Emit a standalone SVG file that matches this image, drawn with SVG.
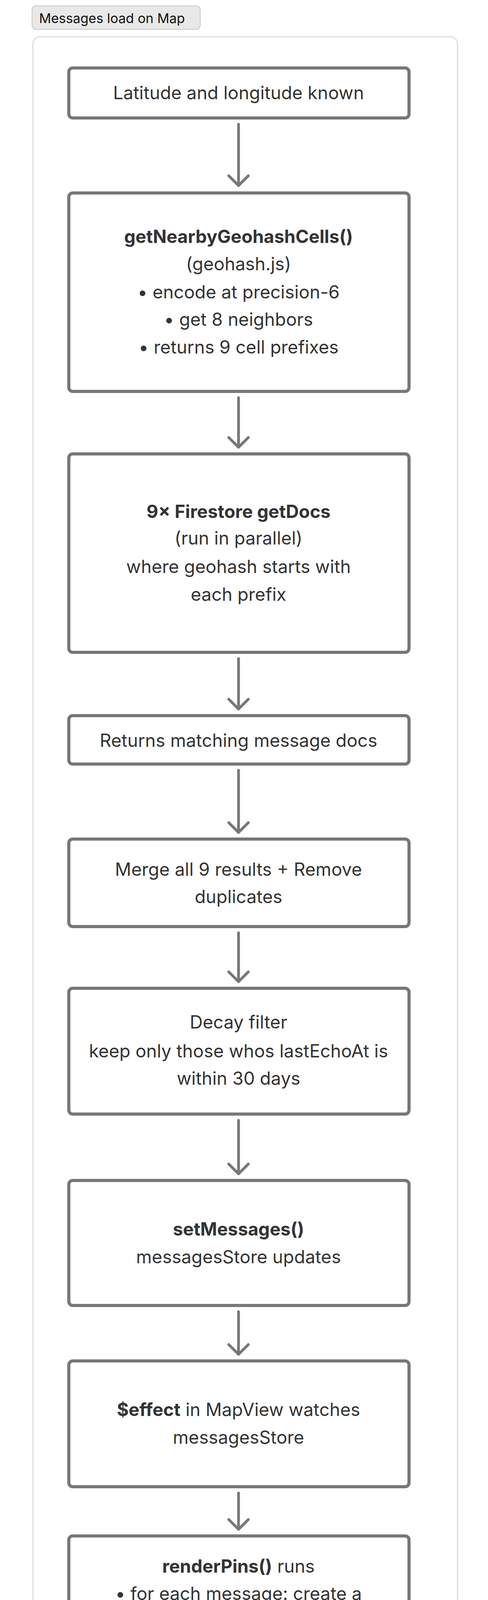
<svg xmlns="http://www.w3.org/2000/svg" width="1248" height="4640" viewBox="0 0 1248 4640">
<style>
.box{fill:#fff;stroke:#777;stroke-width:8}
.t{font-family:Inter,"Noto Sans",sans-serif;font-size:46px;fill:#333;text-anchor:middle}
.b{font-weight:bold}
.c{stroke:#777;stroke-width:7;fill:none;stroke-linecap:round;stroke-linejoin:round}
</style>
<rect x="0" y="0" width="1248" height="4640" fill="#fff"/>
<g id="title"><rect x="82" y="15" width="430" height="60" rx="10" fill="#e8e8e8" stroke="#c8c8c8" stroke-width="2"/>
<text x="100" y="59" font-family="Inter,'Noto Sans',sans-serif" font-size="34" fill="#111">Messages load on Map</text></g>
<rect id="container" x="84" y="94" width="1086" height="4420" rx="18" fill="none" stroke="#e5e5e5" stroke-width="4"/>
<g id="connectors">
<path class="c" d="M610 318V472M585 450L610 475L635 450"/>
<path class="c" d="M610 1018V1142M585 1120L610 1145L635 1120"/>
<path class="c" d="M610 1686V1812M585 1790L610 1815L635 1790"/>
<path class="c" d="M610 1972V2128M585 2106L610 2131L635 2106"/>
<path class="c" d="M610 2388V2510M585 2488L610 2513L635 2488"/>
<path class="c" d="M610 2868V3002M585 2980L610 3005L635 2980"/>
<path class="c" d="M610 3358V3464M585 3442L610 3467L635 3442"/>
<path class="c" d="M610 3822V3912M585 3890L610 3915L635 3890"/>
</g>
<g id="n1"><rect class="box" x="176" y="174" width="870" height="128" rx="10"/><text class="t" x="610" y="254">Latitude and longitude known</text></g>
<g id="n2"><rect class="box" x="176" y="494" width="870" height="508" rx="10"/>
<text class="t" x="610" y="622"><tspan class="b">getNearbyGeohashCells()</tspan></text>
<text class="t" x="610" y="692">(geohash.js)</text>
<text class="t" x="610" y="764">•  encode at precision-6</text>
<text class="t" x="610" y="834">•  get 8 neighbors</text>
<text class="t" x="610" y="905">•  returns 9 cell prefixes</text></g>
<g id="n3"><rect class="box" x="176" y="1162" width="870" height="508" rx="10"/>
<text class="t" x="610" y="1326"><tspan class="b">9× Firestore getDocs</tspan></text>
<text class="t" x="610" y="1394">(run in parallel)</text>
<text class="t" x="610" y="1467">where geohash starts with</text>
<text class="t" x="610" y="1538">each prefix</text></g>
<g id="n4"><rect class="box" x="176" y="1832" width="870" height="124" rx="10"/><text class="t" x="610" y="1912">Returns matching message docs</text></g>
<g id="n5"><rect class="box" x="176" y="2148" width="870" height="224" rx="10"/>
<text class="t" x="610" y="2242">Merge all 9 results + Remove</text>
<text class="t" x="610" y="2312">duplicates</text></g>
<g id="n6"><rect class="box" x="176" y="2530" width="870" height="322" rx="10"/>
<text class="t" x="610" y="2633">Decay filter</text>
<text class="t" x="610" y="2707">keep only those whos lastEchoAt is</text>
<text class="t" x="610" y="2777">within 30 days</text></g>
<g id="n7"><rect class="box" x="176" y="3022" width="870" height="320" rx="10"/>
<text class="t" x="610" y="3163"><tspan class="b">setMessages()</tspan></text>
<text class="t" x="610" y="3234">messagesStore updates</text></g>
<g id="n8"><rect class="box" x="176" y="3484" width="870" height="322" rx="10"/>
<text class="t" x="610" y="3625"><tspan class="b">$effect</tspan> in MapView watches</text>
<text class="t" x="610" y="3696">messagesStore</text></g>
<g id="n9"><rect class="box" x="176" y="3932" width="870" height="508" rx="10"/>
<text class="t" x="610" y="4026"><tspan class="b">renderPins()</tspan> runs</text>
<text class="t" x="610" y="4096">•  for each message: create a</text>
<text class="t" x="640" y="4167">google.maps.Marker with an</text>
<text class="t" x="640" y="4238">SVG circle icon</text>
<text class="t" x="610" y="4308">•  attach a click listener to each</text>
<text class="t" x="646" y="4379">marker</text></g>
</svg>
